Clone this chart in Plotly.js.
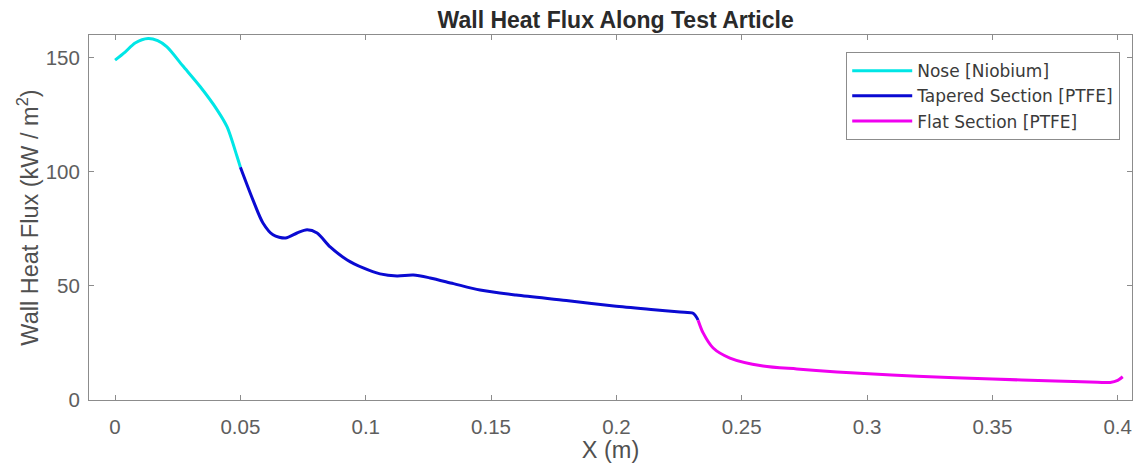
<!DOCTYPE html>
<html>
<head>
<meta charset="utf-8">
<script src="https://cdn.plot.ly/plotly-3.0.1.min.js"></script>
<style>
html,body{margin:0;padding:0;background:#fff;}
#chart{width:1138px;height:463px;}
</style>
</head>
<body>
<div id="chart"></div>
<script>
// Nose [Niobium]
const noseX = [0, 0.004, 0.008, 0.0132, 0.017, 0.0207, 0.027, 0.034, 0.0407, 0.0447, 0.0487, 0.05];
const noseY = [149, 152.5, 156.5, 158.5, 157.5, 154.8, 146.5, 137.3, 127.2, 119.7, 106.6, 102];
// Tapered Section [PTFE]
const taperX = [0.05, 0.055, 0.059, 0.063, 0.068, 0.0726, 0.0766, 0.0806, 0.0858, 0.0926, 0.099, 0.1057, 0.1125, 0.119, 0.1257, 0.135, 0.1456, 0.16, 0.18, 0.199, 0.215, 0.2254, 0.2306, 0.2326];
const taperY = [102, 87.7, 77.6, 72.4, 71, 73.2, 74.6, 73.2, 67.1, 61.4, 57.9, 55.3, 54.4, 54.8, 53.5, 51, 48.2, 46, 43.6, 41.2, 39.6, 38.6, 38, 35];
// Flat Section [PTFE]
const flatX = [0.2326, 0.2346, 0.2386, 0.2453, 0.2585, 0.272, 0.288, 0.297, 0.32, 0.35, 0.375, 0.392, 0.397, 0.4, 0.402];
const flatY = [35, 29.4, 22.8, 18.4, 14.9, 13.6, 12.3, 11.7, 10.4, 9.2, 8.3, 7.8, 7.7, 8.6, 10.2];

const names = ['Nose [Niobium]', 'Tapered Section [PTFE]', 'Flat Section [PTFE]'];
const colors = ['#00e6e6', '#0a0ad2', '#f000f0'];
const xs = [noseX, taperX, flatX];
const ys = [noseY, taperY, flatY];

const xTicks = [0, 0.05, 0.1, 0.15, 0.2, 0.25, 0.3, 0.35, 0.4];
const xTickText = ['0', '0.05', '0.1', '0.15', '0.2', '0.25', '0.3', '0.35', '0.4'];
const yTicks = [0, 50, 100, 150];
const yTickText = ['0', '50', '100', '150'];

const traces = xs.map((x, i) => ({
  x: x, y: ys[i], name: names[i], type: 'scatter', mode: 'lines',
  line: {color: colors[i], width: 3, shape: 'spline', smoothing: 0.8}
}));

const FONT = 'Liberation Sans, Arial, sans-serif';
const axisCommon = {
  showgrid: false, zeroline: false, showline: true, linecolor: '#8c8c8c', linewidth: 1,
  mirror: 'ticks', ticks: 'inside', ticklen: 5, tickcolor: '#8c8c8c',
  tickfont: {family: FONT, size: 20.5, color: '#5e5e5e'}
};

const layout = {
  width: 1138, height: 463,
  margin: {l: 89, r: 6, t: 35, b: 63},
  paper_bgcolor: '#fff', plot_bgcolor: '#fff',
  title: {text: '<b>Wall Heat Flux Along Test Article</b>', x: 0.541, xanchor: 'center', y: 0.956, yanchor: 'middle',
    font: {family: FONT, size: 23, color: '#2a2a2a'}},
  xaxis: Object.assign({}, axisCommon, {
    range: [-0.0104, 0.4057], tickvals: xTicks, ticktext: xTickText, ticklabelstandoff: 8,
    title: {text: 'X (m)', standoff: 3, font: {family: FONT, size: 23.5, color: '#505050'}}
  }),
  yaxis: Object.assign({}, axisCommon, {
    range: [0, 160], tickvals: yTicks, ticktext: yTickText, ticklabelstandoff: 4,
    title: {text: 'Wall Heat Flux (kW / m<sup>2</sup>)', standoff: 0, font: {family: FONT, size: 23.5, color: '#505050'}}
  }),
  showlegend: true,
  legend: {
    x: 0.726, y: 0.953, xanchor: 'left', yanchor: 'top',
    bgcolor: '#fff', bordercolor: '#8c8c8c', borderwidth: 1,
    font: {family: 'DejaVu Sans, sans-serif', size: 17, color: '#3a3a3a'},
    itemwidth: 60, tracegroupgap: 0
  }
};

Plotly.newPlot('chart', traces, layout, {displayModeBar: false, staticPlot: true});
</script>
</body>
</html>
